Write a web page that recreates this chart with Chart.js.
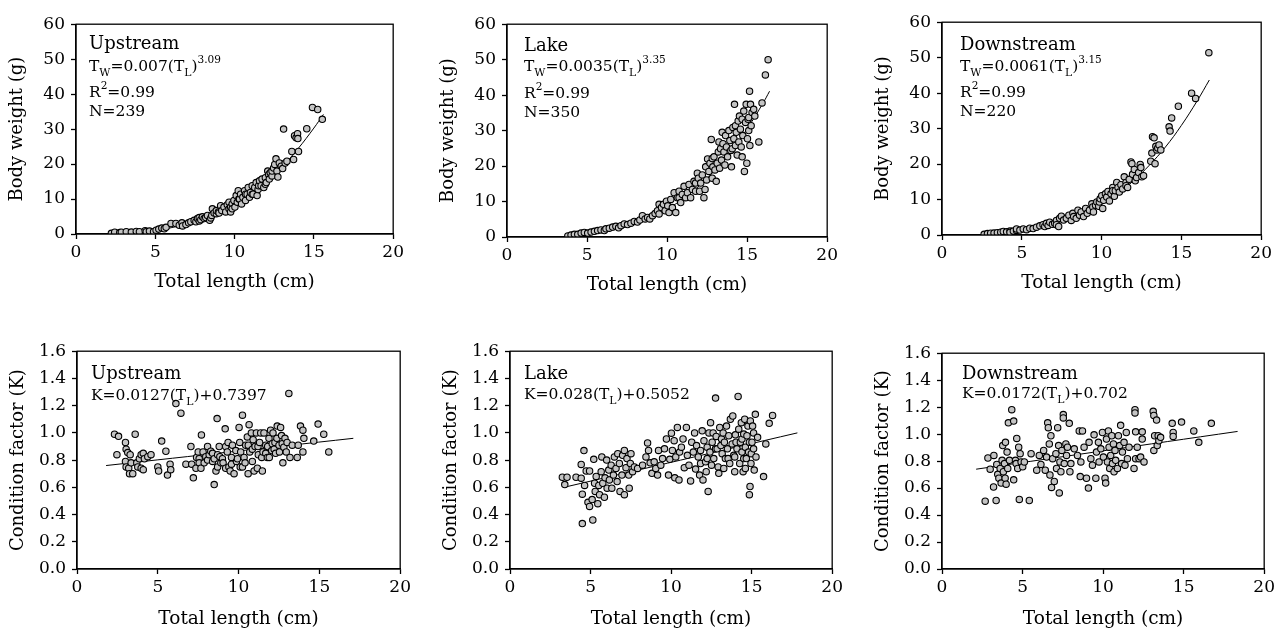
<!DOCTYPE html>
<html>
<head>
<meta charset="utf-8">
<script src="https://cdn.jsdelivr.net/npm/chart.js@4.4.1/dist/chart.umd.min.js"></script>
<style>
  body { margin: 0; background: #fff; width: 1286px; height: 633px; position: relative; overflow: hidden; }
  canvas { position: absolute; }
</style>
</head>
<body>
<canvas id="c1"></canvas>
<canvas id="c2"></canvas>
<canvas id="c3"></canvas>
<canvas id="c4"></canvas>
<canvas id="c5"></canvas>
<canvas id="c6"></canvas>
<script>
// --- donnees : [longueur totale (cm), valeur] ---

// poids corporel, amont
const upstreamWeight = [[2.23,0.2],[2.44,0.5],[2.76,0.4],[2.86,0.5],[3.17,0.65],[3.49,0.55],[3.8,0.75],[4.0,0.65],[4.36,0.95],[4.43,0.65],[4.63,0.85],[4.89,0.65],[5.05,1.1],[5.22,1.4],[5.41,1.7],[5.57,1.5],[5.68,1.9],[5.99,3.0],[6.3,3.0],[6.51,2.5],[6.68,3.2],[6.72,2.3],[6.93,2.7],[7.1,3.2],[7.24,3.5],[7.45,3.9],[7.56,3.5],[7.66,4.4],[7.77,3.75],[7.77,4.7],[7.87,4.1],[7.97,4.9],[8.08,4.4],[8.18,4.7],[8.29,5.3],[8.43,3.9],[8.5,4.6],[8.56,5.3],[8.6,7.2],[8.71,6.0],[8.85,5.8],[8.85,6.7],[8.98,6.3],[9.02,6.0],[9.12,8.1],[9.19,6.7],[9.33,7.7],[9.44,6.3],[9.54,8.4],[9.65,7.2],[9.65,9.1],[9.75,7.7],[9.75,6.3],[9.85,8.6],[9.85,7.2],[9.96,9.6],[10.02,7.7],[10.1,11.0],[10.17,9.1],[10.23,12.4],[10.27,10.0],[10.31,10.0],[10.38,11.4],[10.44,8.6],[10.52,10.5],[10.63,12.4],[10.69,9.6],[10.69,11.4],[10.79,11.4],[10.86,13.3],[10.94,10.5],[11.0,11.9],[11.11,13.8],[11.11,11.4],[11.17,11.4],[11.27,13.3],[11.36,14.7],[11.42,11.0],[11.48,12.7],[11.52,13.8],[11.57,15.2],[11.67,13.8],[11.73,15.7],[11.84,13.3],[11.94,16.1],[11.94,14.2],[12.0,14.7],[12.09,18.0],[12.15,17.0],[12.19,15.7],[12.25,17.5],[12.36,16.6],[12.36,18.0],[12.46,18.9],[12.53,19.9],[12.61,21.5],[12.67,18.0],[12.73,16.3],[12.82,20.3],[12.94,19.4],[13.03,18.7],[13.09,30.0],[13.19,20.3],[13.3,20.8],[13.61,23.6],[13.72,21.3],[13.78,28.1],[13.88,27.5],[13.97,28.7],[13.99,27.3],[14.03,23.6],[14.55,30.1],[14.91,36.2],[15.24,35.6],[15.53,32.8]];
const upstreamWeightFit = [[2,0.06],[3,0.21],[4,0.51],[5,1.0],[6,1.8],[7,2.9],[8,4.3],[9,6.2],[10,8.6],[11,11.5],[12,15.1],[13,19.3],[14,24.4],[15,30.3],[15.6,34.2]];

// poids corporel, lac
const lakeWeight = [[3.8,0.3],[4.0,0.55],[4.21,0.75],[4.42,0.75],[4.63,1.1],[4.83,1.3],[5.04,1.1],[5.25,1.4],[5.46,1.6],[5.66,1.8],[5.87,2.0],[6.08,1.8],[6.18,2.3],[6.39,2.5],[6.6,2.8],[6.8,3.0],[6.97,2.6],[7.12,3.2],[7.32,3.7],[7.53,3.5],[7.74,3.9],[7.95,4.4],[8.15,4.2],[8.3,4.8],[8.46,6.0],[8.63,5.1],[8.78,5.5],[8.92,5.1],[9.09,6.0],[9.25,6.6],[9.4,7.4],[9.5,6.5],[9.5,9.2],[9.65,8.3],[9.77,9.2],[9.88,7.4],[9.96,10.1],[10.04,8.8],[10.12,6.9],[10.23,10.6],[10.33,8.3],[10.44,12.5],[10.54,6.9],[10.64,11.1],[10.75,12.9],[10.75,11.1],[10.85,9.7],[10.95,12.0],[11.06,14.3],[11.16,11.1],[11.27,12.5],[11.37,14.8],[11.47,11.1],[11.58,13.4],[11.68,15.7],[11.78,12.9],[11.78,15.2],[11.89,18.0],[11.95,16.6],[12.03,12.9],[12.1,15.2],[12.2,17.5],[12.3,11.1],[12.37,13.4],[12.41,19.8],[12.47,16.1],[12.53,22.0],[12.61,18.5],[12.68,20.8],[12.76,27.5],[12.82,16.6],[12.82,22.1],[12.86,19.8],[12.93,22.6],[12.99,18.9],[13.07,15.7],[13.13,20.8],[13.2,24.0],[13.24,26.8],[13.28,19.4],[13.34,24.9],[13.4,21.7],[13.44,29.5],[13.49,26.3],[13.55,24.0],[13.61,20.3],[13.65,28.6],[13.71,25.4],[13.78,22.6],[13.86,30.0],[13.92,27.2],[13.98,24.4],[14.02,19.8],[14.07,24.9],[14.11,30.9],[14.17,27.7],[14.21,37.4],[14.27,25.8],[14.27,31.4],[14.32,29.5],[14.38,23.1],[14.44,32.7],[14.48,26.8],[14.52,34.1],[14.58,30.4],[14.63,25.4],[14.69,22.6],[14.69,33.2],[14.73,28.6],[14.79,35.5],[14.83,18.5],[14.9,32.3],[14.94,37.4],[14.98,20.8],[15.02,27.7],[15.06,33.2],[15.1,30.0],[15.1,33.7],[15.15,41.1],[15.17,25.8],[15.21,37.4],[15.25,31.4],[15.31,35.1],[15.41,36.0],[15.48,34.1],[15.73,26.8],[15.93,37.8],[16.14,45.7],[16.31,50.0]];
const lakeWeightFit = [[3.8,0.31],[4,0.36],[5,0.77],[6,1.42],[7,2.37],[8,3.7],[9,5.51],[10,7.84],[11,10.8],[12,14.4],[13,18.9],[14,24.2],[15,30.5],[16,37.8],[16.4,41.1]];

// poids corporel, aval
const downstreamWeight = [[2.64,0.2],[2.85,0.4],[3.05,0.5],[3.26,0.55],[3.47,0.65],[3.68,0.8],[3.84,1.0],[4.05,0.9],[4.26,1.1],[4.26,0.7],[4.47,1.1],[4.67,1.3],[4.67,1.7],[4.88,1.4],[5.09,1.7],[5.3,1.5],[5.5,1.9],[5.71,1.8],[5.92,2.2],[6.13,2.6],[6.33,2.9],[6.44,2.4],[6.54,3.3],[6.65,2.7],[6.75,3.6],[6.92,3.0],[7.06,3.3],[7.17,4.1],[7.17,2.9],[7.31,2.4],[7.37,4.7],[7.48,5.3],[7.62,4.2],[7.79,4.7],[7.95,5.6],[8.1,4.1],[8.2,6.1],[8.25,5.2],[8.41,4.7],[8.52,7.0],[8.62,5.6],[8.72,6.5],[8.87,5.2],[9.0,7.5],[9.1,6.1],[9.24,7.0],[9.39,8.8],[9.45,7.9],[9.49,6.5],[9.62,8.4],[9.7,9.3],[9.82,8.1],[9.86,9.3],[9.91,10.2],[10.01,11.1],[10.07,7.5],[10.13,9.8],[10.24,11.6],[10.32,10.7],[10.4,12.3],[10.49,9.6],[10.59,11.6],[10.7,13.4],[10.7,12.5],[10.8,10.9],[10.86,12.5],[10.95,14.8],[11.03,13.4],[11.11,12.1],[11.21,14.2],[11.32,13.0],[11.42,16.4],[11.53,14.8],[11.53,13.9],[11.63,13.4],[11.73,15.7],[11.84,20.6],[11.9,20.1],[11.94,17.1],[12.05,18.5],[12.11,15.3],[12.19,16.2],[12.32,17.6],[12.42,19.9],[12.46,19.0],[12.52,16.4],[12.63,16.7],[13.08,20.8],[13.15,23.1],[13.19,27.7],[13.29,27.4],[13.35,20.1],[13.4,25.0],[13.46,24.0],[13.52,24.5],[13.6,25.4],[13.71,24.0],[14.23,30.5],[14.29,29.3],[14.39,33.0],[14.81,36.3],[15.64,40.0],[15.89,38.5],[16.72,51.4]];
const downstreamWeightFit = [[2.6,0.12],[3,0.19],[4,0.48],[5,0.97],[6,1.72],[7,2.8],[8,4.27],[9,6.18],[10,8.62],[11,11.6],[12,15.3],[13,19.7],[14,24.8],[15,30.9],[16,37.9],[16.75,43.7]];

// facteur de condition, amont
const upstreamK = [[2.32,0.99],[2.57,0.975],[2.47,0.84],[3.0,0.93],[3.04,0.88],[3.14,0.855],[3.29,0.84],[3.0,0.79],[3.04,0.75],[3.2,0.74],[3.25,0.70],[3.45,0.70],[3.35,0.78],[3.6,0.99],[3.7,0.78],[3.76,0.75],[3.86,0.81],[3.97,0.84],[3.97,0.74],[4.1,0.85],[4.1,0.73],[4.17,0.81],[4.38,0.825],[4.58,0.84],[5.0,0.75],[5.05,0.72],[5.24,0.94],[5.5,0.865],[5.6,0.69],[5.76,0.77],[5.8,0.73],[6.12,1.215],[6.43,1.145],[6.74,0.77],[7.05,0.90],[7.1,0.77],[7.2,0.67],[7.36,0.74],[7.4,0.82],[7.5,0.86],[7.56,0.81],[7.56,0.78],[7.67,0.74],[7.7,0.985],[7.8,0.86],[7.87,0.78],[7.97,0.825],[8.08,0.9],[8.08,0.8],[8.18,0.84],[8.28,0.865],[8.39,0.79],[8.39,0.85],[8.49,0.62],[8.49,0.81],[8.6,0.72],[8.67,1.105],[8.7,0.84],[8.7,0.75],[8.8,0.9],[8.84,0.825],[8.9,0.78],[9.0,0.81],[9.04,0.78],[9.17,1.03],[9.2,0.9],[9.2,0.74],[9.3,0.86],[9.35,0.93],[9.4,0.75],[9.48,0.72],[9.56,0.82],[9.56,0.77],[9.62,0.91],[9.72,0.70],[9.83,0.87],[9.87,0.79],[9.93,0.81],[10.03,1.04],[10.07,0.93],[10.1,0.75],[10.13,0.86],[10.24,1.13],[10.24,0.75],[10.34,0.82],[10.4,0.78],[10.44,0.91],[10.54,0.97],[10.59,0.70],[10.6,0.91],[10.65,1.06],[10.69,0.86],[10.79,1.0],[10.85,0.79],[10.85,0.88],[10.9,0.95],[10.96,0.72],[11.02,0.90],[11.1,1.0],[11.16,0.74],[11.2,0.90],[11.22,0.84],[11.3,0.93],[11.37,1.0],[11.43,0.82],[11.47,0.72],[11.51,0.86],[11.57,1.0],[11.68,0.91],[11.68,0.85],[11.78,0.82],[11.8,0.9],[11.88,0.96],[11.9,0.82],[11.98,1.02],[12.05,0.87],[12.08,0.92],[12.13,1.0],[12.2,0.88],[12.25,0.93],[12.29,0.85],[12.37,0.96],[12.39,1.05],[12.5,0.91],[12.53,0.86],[12.6,1.04],[12.66,0.98],[12.7,0.92],[12.74,0.78],[12.8,0.895],[12.87,0.96],[12.95,0.86],[13.0,0.93],[13.11,1.29],[13.18,0.82],[13.32,0.91],[13.63,0.82],[13.69,0.91],[13.83,1.05],[13.98,1.02],[13.98,0.86],[14.04,0.96],[14.65,0.94],[14.92,1.065],[15.27,0.99],[15.58,0.86]];
const upstreamKFit = [[1.8,0.76],[17.1,0.96]];

// facteur de condition, lac
const lakeK = [[3.25,0.674],[3.54,0.674],[3.4,0.62],[4.1,0.674],[4.42,0.667],[4.42,0.768],[4.59,0.87],[4.49,0.55],[4.49,0.334],[4.63,0.614],[4.73,0.72],[4.84,0.49],[4.94,0.46],[4.94,0.72],[5.1,0.51],[5.14,0.36],[5.2,0.806],[5.25,0.63],[5.29,0.57],[5.35,0.68],[5.45,0.48],[5.51,0.614],[5.56,0.546],[5.66,0.715],[5.7,0.823],[5.76,0.63],[5.86,0.527],[5.9,0.67],[6.0,0.8],[6.03,0.594],[6.13,0.727],[6.17,0.654],[6.28,0.763],[6.32,0.594],[6.42,0.69],[6.48,0.823],[6.58,0.739],[6.65,0.642],[6.69,0.847],[6.79,0.775],[6.83,0.57],[6.95,0.69],[6.99,0.835],[7.1,0.546],[7.1,0.871],[7.2,0.744],[7.26,0.811],[7.37,0.69],[7.4,0.594],[7.47,0.775],[7.51,0.847],[7.61,0.715],[7.72,0.75],[7.92,0.739],[8.23,0.763],[8.44,0.823],[8.54,0.926],[8.6,0.871],[8.7,0.78],[8.81,0.703],[8.95,0.787],[9.05,0.739],[9.16,0.69],[9.22,0.871],[9.36,0.763],[9.47,0.811],[9.59,0.883],[9.71,0.955],[9.84,0.69],[9.92,0.806],[10.02,0.998],[10.08,0.871],[10.19,0.943],[10.23,0.67],[10.29,0.823],[10.39,1.04],[10.49,0.654],[10.53,0.859],[10.64,0.895],[10.74,0.955],[10.82,0.744],[10.95,1.04],[11.01,0.835],[11.11,0.763],[11.21,0.647],[11.28,0.931],[11.38,0.859],[11.46,1.0],[11.52,0.734],[11.58,0.907],[11.69,0.823],[11.77,0.69],[11.83,0.871],[11.83,0.775],[11.93,1.015],[11.98,0.654],[12.04,0.943],[12.14,0.787],[12.18,0.715],[12.24,0.895],[12.24,0.811],[12.3,0.57],[12.35,1.0],[12.41,0.859],[12.45,1.075],[12.51,0.763],[12.55,0.931],[12.61,1.0],[12.65,0.811],[12.76,1.256],[12.76,0.883],[12.8,0.974],[12.86,0.883],[12.92,0.75],[12.96,0.703],[13.02,1.04],[13.09,0.907],[13.13,0.955],[13.17,0.847],[13.23,1.0],[13.27,0.739],[13.31,0.931],[13.37,0.811],[13.44,1.05],[13.5,0.883],[13.54,0.811],[13.58,0.979],[13.64,0.775],[13.68,1.1],[13.79,0.919],[13.83,1.124],[13.89,0.835],[13.95,0.715],[13.95,0.823],[13.99,0.986],[14.03,0.931],[14.09,0.883],[14.16,1.268],[14.2,1.027],[14.26,0.775],[14.3,0.931],[14.36,1.075],[14.4,0.859],[14.4,0.955],[14.47,0.715],[14.51,0.991],[14.51,0.811],[14.57,1.1],[14.61,0.895],[14.61,0.739],[14.67,0.811],[14.71,0.979],[14.77,1.05],[14.81,0.859],[14.86,0.546],[14.86,0.931],[14.9,0.606],[14.92,1.088],[14.96,0.775],[14.98,0.847],[15.02,0.931],[15.06,1.05],[15.12,0.883],[15.12,1.0],[15.16,0.727],[15.23,1.136],[15.27,0.823],[15.37,0.967],[15.74,0.679],[15.88,0.919],[16.09,1.07],[16.3,1.128]];
const lakeKFit = [[3.35,0.6],[17.84,1.0]];

// facteur de condition, aval
const downstreamK = [[2.68,0.503],[2.85,0.823],[2.99,0.74],[3.22,0.842],[3.2,0.608],[3.36,0.508],[3.4,0.775],[3.46,0.702],[3.53,0.673],[3.61,0.746],[3.67,0.637],[3.73,0.806],[3.77,0.915],[3.81,0.721],[3.88,0.782],[3.92,0.673],[3.94,0.939],[3.98,0.629],[4.04,0.867],[4.08,0.746],[4.12,1.084],[4.19,0.806],[4.33,1.181],[4.45,1.097],[4.45,0.661],[4.56,0.806],[4.6,0.782],[4.64,0.968],[4.7,0.746],[4.76,0.903],[4.8,0.516],[4.85,0.855],[4.91,0.794],[5.01,0.758],[5.11,0.794],[5.42,0.508],[5.53,0.855],[5.88,0.733],[6.04,0.842],[6.14,0.775],[6.31,0.879],[6.41,0.733],[6.49,0.83],[6.56,1.084],[6.6,1.048],[6.66,0.927],[6.7,0.697],[6.76,0.988],[6.8,0.605],[6.87,0.818],[6.97,0.649],[7.07,0.855],[7.11,0.746],[7.18,1.048],[7.24,0.915],[7.28,0.564],[7.32,0.794],[7.38,0.721],[7.44,0.879],[7.53,1.145],[7.53,1.12],[7.59,0.782],[7.69,0.927],[7.73,0.842],[7.79,0.903],[7.9,1.08],[7.94,0.721],[8.0,0.782],[8.21,0.891],[8.41,0.842],[8.52,1.024],[8.58,0.685],[8.62,0.794],[8.72,1.024],[8.82,0.903],[8.97,0.673],[9.09,0.6],[9.13,0.939],[9.24,0.818],[9.34,0.77],[9.44,0.995],[9.55,0.673],[9.59,0.867],[9.71,0.939],[9.75,0.794],[9.86,0.891],[9.96,1.012],[10.02,0.83],[10.12,0.673],[10.16,0.637],[10.21,0.963],[10.27,0.794],[10.33,1.024],[10.37,0.903],[10.41,0.746],[10.47,0.842],[10.54,0.988],[10.58,0.782],[10.64,0.927],[10.68,0.721],[10.74,0.879],[10.78,0.806],[10.89,0.746],[10.95,0.988],[11.03,0.915],[11.09,1.065],[11.15,0.782],[11.2,0.867],[11.3,0.939],[11.36,0.77],[11.44,1.012],[11.51,0.818],[11.61,0.903],[11.92,0.746],[11.98,1.181],[11.98,1.157],[12.02,1.017],[12.02,0.818],[12.12,0.903],[12.23,0.818],[12.33,0.83],[12.43,1.017],[12.43,0.963],[12.54,0.794],[13.11,1.169],[13.15,1.138],[13.2,0.988],[13.15,0.879],[13.32,1.104],[13.36,0.915],[13.42,0.988],[13.46,0.951],[13.57,0.976],[14.29,1.08],[14.35,1.012],[14.35,0.983],[14.87,1.089],[15.63,1.024],[15.94,0.939],[16.72,1.08]];
const downstreamKFit = [[2.12,0.74],[18.35,1.02]];

// --- mise en page ---
const YW = 72, XH = 62, PT = 12, PR = 12;
const FONT = '"DejaVu Serif", "Liberation Serif", serif';

const panels = [
  { id: 'c1', box: [76, 20, 395, 234], pts: upstreamWeight, fit: upstreamWeightFit, yMax: 60, yStep: 10, dec: false,
    yTitle: 'Body weight (g)', dx: 13, xPad: 3,
    notes: [
      { dy: 25, size: 18, parts: [['Upstream', 'n']] },
      { dy: 47, size: 15.5, parts: [['T', 'n'], ['W', 'b'], ['=0.007(T', 'n'], ['L', 'b'], [')', 'n'], ['3.09', 'p']] },
      { dy: 73, size: 15.5, parts: [['R', 'n'], ['2', 'p'], ['=0.99', 'n']] },
      { dy: 92, size: 15.5, parts: [['N=239', 'n']] }
    ] },
  { id: 'c2', box: [507, 20, 829, 237], pts: lakeWeight, fit: lakeWeightFit, yMax: 60, yStep: 10, dec: false,
    yTitle: 'Body weight (g)', dx: 17, xPad: 3,
    notes: [
      { dy: 27, size: 18, parts: [['Lake', 'n']] },
      { dy: 47, size: 15.5, parts: [['T', 'n'], ['W', 'b'], ['=0.0035(T', 'n'], ['L', 'b'], [')', 'n'], ['3.35', 'p']] },
      { dy: 74, size: 15.5, parts: [['R', 'n'], ['2', 'p'], ['=0.99', 'n']] },
      { dy: 93, size: 15.5, parts: [['N=350', 'n']] }
    ] },
  { id: 'c3', box: [942, 18, 1263, 235], pts: downstreamWeight, fit: downstreamWeightFit, yMax: 60, yStep: 10, dec: false,
    yTitle: 'Body weight (g)', dx: 18, xPad: 3,
    notes: [
      { dy: 28, size: 18, parts: [['Downstream', 'n']] },
      { dy: 49, size: 15.5, parts: [['T', 'n'], ['W', 'b'], ['=0.0061(T', 'n'], ['L', 'b'], [')', 'n'], ['3.15', 'p']] },
      { dy: 75, size: 15.5, parts: [['R', 'n'], ['2', 'p'], ['=0.99', 'n']] },
      { dy: 94, size: 15.5, parts: [['N=220', 'n']] }
    ] },
  { id: 'c4', box: [77, 347, 402, 569], pts: upstreamK, fit: upstreamKFit, yMax: 1.6, yStep: 0.2, dec: true,
    yTitle: 'Condition factor (K)', dx: 14, xPad: 1,
    notes: [
      { dy: 28, size: 18, parts: [['Upstream', 'n']] },
      { dy: 49, size: 15.5, parts: [['K=0.0127(T', 'n'], ['L', 'b'], [')+0.7397', 'n']] }
    ] },
  { id: 'c5', box: [510, 347, 834, 569], pts: lakeK, fit: lakeKFit, yMax: 1.6, yStep: 0.2, dec: true,
    yTitle: 'Condition factor (K)', dx: 14, xPad: 1,
    notes: [
      { dy: 28, size: 18, parts: [['Lake', 'n']] },
      { dy: 48, size: 15.5, parts: [['K=0.028(T', 'n'], ['L', 'b'], [')+0.5052', 'n']] }
    ] },
  { id: 'c6', box: [942, 349, 1266, 569], pts: downstreamK, fit: downstreamKFit, yMax: 1.6, yStep: 0.2, dec: true,
    yTitle: 'Condition factor (K)', dx: 20, xPad: 1,
    notes: [
      { dy: 26, size: 18, parts: [['Downstream', 'n']] },
      { dy: 45, size: 15.5, parts: [['K=0.0172(T', 'n'], ['L', 'b'], [')+0.702', 'n']] }
    ] }
];

// cadre complet autour de la zone du graphe
const boxPlugin = {
  id: 'cadre',
  afterDraw(chart) {
    const a = chart.chartArea, ctx = chart.ctx;
    ctx.save();
    ctx.strokeStyle = '#000';
    ctx.lineWidth = 1.3;
    ctx.strokeRect(a.left, a.top, a.right - a.left, a.bottom - a.top);
    ctx.restore();
  }
};

// textes avec indices / exposants
const notesPlugin = {
  id: 'notes',
  afterDraw(chart, args, opts) {
    const ctx = chart.ctx, a = chart.chartArea;
    ctx.save();
    ctx.fillStyle = '#000';
    ctx.textBaseline = 'alphabetic';
    for (const line of opts.lines || []) {
      let x = a.left + opts.dx;
      const y = a.top + line.dy;
      for (const [t, k] of line.parts) {
        let fs = line.size, off = 0;
        if (k === 'b') { fs = line.size * 0.7; off = line.size * 0.3; }
        if (k === 'p') { fs = line.size * 0.68; off = -line.size * 0.5; }
        ctx.font = fs + 'px ' + FONT;
        ctx.fillText(t, x, y + off);
        x += ctx.measureText(t).width;
      }
    }
    ctx.restore();
  }
};

Chart.defaults.color = '#000';
Chart.defaults.font.family = FONT;

panels.forEach(p => {
  const [L, T, R, B] = p.box;
  const cv = document.getElementById(p.id);
  cv.width = R - L + YW + PR;
  cv.height = B - T + PT + XH;
  cv.style.left = (L - YW) + 'px';
  cv.style.top = (T - PT) + 'px';

  new Chart(cv, {
    type: 'scatter',
    data: {
      datasets: [
        {
          data: p.pts.map(d => ({ x: d[0], y: d[1] })),
          pointRadius: 3.2,
          pointBackgroundColor: '#c4c4c4',
          pointBorderColor: '#000',
          pointBorderWidth: 1.1,
          showLine: false
        },
        {
          data: p.fit.map(d => ({ x: d[0], y: d[1] })),
          showLine: true,
          borderColor: '#000',
          borderWidth: 1,
          pointRadius: 0,
          tension: 0.4,
          fill: false
        }
      ]
    },
    options: {
      responsive: false,
      animation: false,
      devicePixelRatio: 1,
      layout: { padding: { top: PT, right: PR, left: 0, bottom: 0 } },
      plugins: {
        legend: { display: false },
        tooltip: { enabled: false },
        notes: { lines: p.notes, dx: p.dx }
      },
      scales: {
        x: {
          type: 'linear', min: 0, max: 20,
          ticks: { stepSize: 5, padding: 3, maxRotation: 0, font: { size: 17 }, color: '#000' },
          grid: { drawOnChartArea: false, tickLength: 5, tickColor: '#000', tickWidth: 1.3 },
          border: { color: '#000', width: 1.3 },
          title: { display: true, text: 'Total length (cm)', font: { size: 18.5 }, color: '#000', padding: { top: 0, bottom: p.xPad } },
          afterFit: s => { s.height = XH; }
        },
        y: {
          type: 'linear', min: 0, max: p.yMax,
          ticks: { stepSize: p.yStep, padding: 6, font: { size: 17 }, color: '#000',
                   callback: v => p.dec ? Number(v).toFixed(1) : v },
          grid: { drawOnChartArea: false, tickLength: 5, tickColor: '#000', tickWidth: 1.3 },
          border: { color: '#000', width: 1.3 },
          title: { display: true, text: p.yTitle, font: { size: 18 }, color: '#000', padding: { top: 3, bottom: 0 } },
          afterFit: s => { s.width = YW; }
        }
      }
    },
    plugins: [boxPlugin, notesPlugin]
  });
});
</script>
</body>
</html>
